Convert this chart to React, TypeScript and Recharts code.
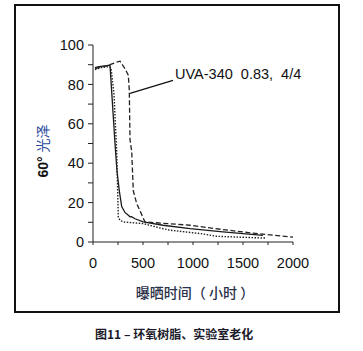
import { CartesianGrid, Line, LineChart, ReferenceLine, XAxis, YAxis } from 'recharts'

// exposure hours / 60° gloss
const solidSeries = [
  { h: 20, g: 88.5 }, { h: 60, g: 89 }, { h: 100, g: 89.3 }, { h: 140, g: 89.5 },
  { h: 170, g: 89.8 }, { h: 195, g: 70 }, { h: 220, g: 50 }, { h: 240, g: 36 },
  { h: 263, g: 26 }, { h: 287, g: 18 }, { h: 320, g: 15 }, { h: 353, g: 13.6 },
  { h: 370, g: 12.8 }, { h: 385, g: 12.9 }, { h: 420, g: 11.8 }, { h: 503, g: 10.2 },
  { h: 700, g: 8.5 }, { h: 970, g: 6.8 }, { h: 1300, g: 5.1 }, { h: 1700, g: 3.4 },
]

const dottedSeries = [
  { h: 20, g: 87.5 }, { h: 80, g: 88.5 }, { h: 140, g: 89 }, { h: 180, g: 88.5 },
  { h: 210, g: 75 }, { h: 237, g: 46 }, { h: 253, g: 12.7 }, { h: 270, g: 11 },
  { h: 303, g: 10.2 }, { h: 503, g: 9.3 }, { h: 670, g: 7.1 }, { h: 770, g: 6 },
  { h: 1070, g: 4.3 }, { h: 1237, g: 2.9 }, { h: 1500, g: 2.4 }, { h: 1720, g: 2.0 },
]

const dashedSeries = [
  { h: 20, g: 88 }, { h: 100, g: 89 }, { h: 170, g: 90 }, { h: 220, g: 91 },
  { h: 270, g: 91.8 }, { h: 320, g: 88 }, { h: 353, g: 84.7 }, { h: 363, g: 77 },
  { h: 370, g: 52 }, { h: 387, g: 46 }, { h: 403, g: 26 }, { h: 437, g: 19.5 },
  { h: 520, g: 10.2 }, { h: 700, g: 9.5 }, { h: 970, g: 8.5 }, { h: 1300, g: 6.3 },
  { h: 1600, g: 4.5 }, { h: 2000, g: 2.5 },
]

const xTicks = [0, 250, 500, 750, 1000, 1250, 1500, 1750, 2000]
const yTicks = [0, 10, 20, 30, 40, 50, 60, 70, 80, 90, 100]

const leaderLine = [
  { x: 370, y: 75.5 },
  { x: 800, y: 82 },
]

const annotationText = 'UVA-340  0.83,  4/4'
const xTitle = '曝晒时间（ 小时 ）'
const caption = '图11 – 环氧树脂、实验室老化'

const font = '"Liberation Sans", Arial, sans-serif'

export default function App() {
  return (
    <div style={{ position: 'absolute', left: 0, top: 0, width: 363, height: 351, background: '#fff', fontFamily: font }}>
      <div
        style={{
          position: 'absolute',
          left: 14,
          top: 4,
          width: 322,
          height: 305,
          border: '2.5px solid #111',
        }}
      />
      <div style={{ position: 'absolute', left: 0, top: 0 }}>
        <LineChart width={363} height={351} margin={{ top: 45, right: 70, bottom: 79, left: 53 }}>
          <CartesianGrid stroke="none" />
          <XAxis
            type="number"
            dataKey="h"
            domain={[0, 2000]}
            ticks={xTicks}
            tickFormatter={(v: number) => (v % 500 === 0 ? String(v) : '')}
            tickSize={3}
            tickMargin={13}
            height={30}
            stroke="#222"
            tick={{ fill: '#111', fontSize: 14.5, fontFamily: font }}
            allowDuplicatedCategory={false}
          />
          <YAxis
            type="number"
            dataKey="g"
            domain={[0, 100]}
            ticks={yTicks}
            tickFormatter={(v: number) => (v % 20 === 0 ? String(v) : '')}
            tickSize={5}
            tickMargin={4}
            width={40}
            stroke="#222"
            tick={{ fill: '#111', fontSize: 14.5, fontFamily: font }}
          />
          <Line data={solidSeries} dataKey="g" type="linear" stroke="#1a1a1a" strokeWidth={1.3} dot={false} isAnimationActive={false} />
          <Line data={dottedSeries} dataKey="g" type="linear" stroke="#222" strokeWidth={1.4} strokeDasharray="1.5 1.5" dot={false} isAnimationActive={false} />
          <Line data={dashedSeries} dataKey="g" type="linear" stroke="#222" strokeWidth={1.3} strokeDasharray="5 2.5" dot={false} isAnimationActive={false} />
          <ReferenceLine segment={leaderLine} stroke="#111" strokeWidth={1.3} ifOverflow="visible" />
        </LineChart>
      </div>
      <div style={{ position: 'absolute', left: 175, top: 66, fontSize: 14.5, color: '#111', whiteSpace: 'pre' }}>
        {annotationText}
      </div>
      <div
        style={{
          position: 'absolute',
          left: 42,
          top: 151,
          transform: 'translate(-50%, -50%) rotate(-90deg)',
          whiteSpace: 'nowrap',
          fontSize: 14,
        }}
      >
        <span style={{ fontWeight: 'bold', color: '#111' }}>60° </span>
        <span style={{ color: '#2c4c9c', fontFamily: '"Noto Sans CJK SC", sans-serif' }}>光泽</span>
      </div>
      <div
        style={{
          position: 'absolute',
          left: 195,
          top: 292,
          transform: 'translate(-50%, -50%)',
          whiteSpace: 'pre',
          fontSize: 14,
          fontWeight: 500,
          color: '#2a3048',
          fontFamily: '"Noto Sans CJK SC", sans-serif',
        }}
      >
        {xTitle}
      </div>
      <div
        style={{
          position: 'absolute',
          left: 95,
          top: 333,
          transform: 'translateY(-50%)',
          whiteSpace: 'pre',
          fontSize: 12,
          fontWeight: 'bold',
          color: '#1b1b2b',
          fontFamily: '"Noto Sans CJK SC", sans-serif',
        }}
      >
        {caption}
      </div>
    </div>
  )
}
